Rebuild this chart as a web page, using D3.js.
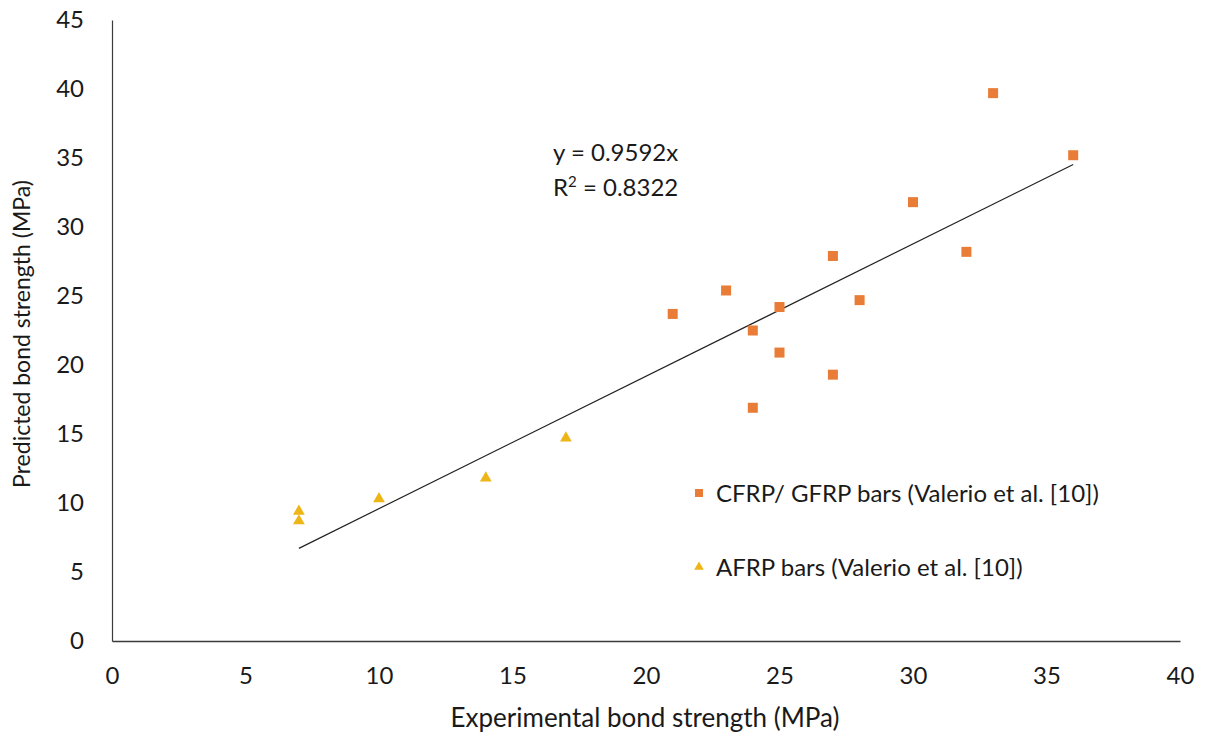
<!DOCTYPE html>
<html>
<head>
<meta charset="utf-8">
<script src="https://cdn.jsdelivr.net/npm/d3@7"></script>
<style>
  body { margin: 0; background: #fff; }
  text { font-family: Lato, "Open Sans", sans-serif; fill: #1a1a1a; }
</style>
</head>
<body>
<svg id="chart" width="1207" height="742"></svg>
<script>
// CFRP / GFRP bars
var cfrpX = [21, 23, 24, 24, 25, 25, 27, 27, 28, 30, 32, 33, 36];
var cfrpY = [23.7, 25.4, 22.5, 16.9, 24.2, 20.9, 27.9, 19.3, 24.7, 31.8, 28.2, 39.7, 35.2];

// AFRP bars
var afrpX = [7, 7, 10, 14, 17];
var afrpY = [9.4, 8.7, 10.3, 11.8, 14.7];

var xTicks = [0, 5, 10, 15, 20, 25, 30, 35, 40];
var yTicks = [0, 5, 10, 15, 20, 25, 30, 35, 40, 45];

var slope = 0.9592;
var trendRange = [7, 36];

var svg = d3.select("#chart");

var xScale = d3.scaleLinear().domain([0, 40]).range([112, 1180]);
var yScale = d3.scaleLinear().domain([0, 45]).range([641, 20]);

// x axis
var xAxis = d3.axisBottom(xScale).tickValues(xTicks).tickSize(0).tickPadding(26);
var gx = svg.append("g")
    .attr("transform", "translate(0," + yScale(0) + ")")
    .call(xAxis);
gx.select(".domain").attr("stroke", "#3a3a3a").attr("stroke-width", 1.5);
gx.selectAll("text").style("font-size", "24px").attr("fill", "#1a1a1a");

// y axis
var yAxis = d3.axisLeft(yScale).tickValues(yTicks).tickSize(0).tickPadding(28);
var gy = svg.append("g")
    .attr("transform", "translate(" + xScale(0) + ",0)")
    .call(yAxis);
gy.select(".domain").attr("stroke", "#3a3a3a").attr("stroke-width", 1.2);
gy.selectAll("text").style("font-size", "24px").attr("fill", "#1a1a1a");

// axis titles
svg.append("text")
    .attr("x", 645)
    .attr("y", 727)
    .attr("text-anchor", "middle")
    .style("font-size", "26px")
    .text("Experimental bond strength (MPa)");

svg.append("text")
    .attr("transform", "translate(30,334) rotate(-90)")
    .attr("text-anchor", "middle")
    .style("font-size", "23px")
    .text("Predicted bond strength (MPa)");

// trendline
svg.append("line")
    .attr("x1", xScale(trendRange[0]))
    .attr("y1", yScale(slope * trendRange[0]))
    .attr("x2", xScale(trendRange[1]))
    .attr("y2", yScale(slope * trendRange[1]))
    .attr("stroke", "#222")
    .attr("stroke-width", 1.2);

// points
var cfrp = cfrpX.map(function(d, i) { return [d, cfrpY[i]]; });
var afrp = afrpX.map(function(d, i) { return [d, afrpY[i]]; });

svg.selectAll(".sq")
    .data(cfrp)
  .enter().append("rect")
    .attr("class", "sq")
    .attr("x", function(d) { return xScale(d[0]) - 5; })
    .attr("y", function(d) { return yScale(d[1]) - 5; })
    .attr("width", 10)
    .attr("height", 10)
    .attr("fill", "#E97C36");

var tri = d3.symbol().type(d3.symbolTriangle).size(60);
svg.selectAll(".tri")
    .data(afrp)
  .enter().append("path")
    .attr("class", "tri")
    .attr("d", tri)
    .attr("transform", function(d) { return "translate(" + xScale(d[0]) + "," + yScale(d[1]) + ")"; })
    .attr("fill", "#EDB616");

// equation
svg.append("text")
    .attr("x", 553)
    .attr("y", 161)
    .style("font-size", "24px")
    .text("y = 0.9592x");
var r2 = svg.append("text")
    .attr("x", 553)
    .attr("y", 196)
    .style("font-size", "24px");
r2.append("tspan").text("R");
r2.append("tspan").attr("dy", -9).style("font-size", "15px").text("2");
r2.append("tspan").attr("dy", 9).text(" = 0.8322");

// legend
svg.append("rect")
    .attr("x", 695).attr("y", 489)
    .attr("width", 8).attr("height", 8)
    .attr("fill", "#E97C36");
svg.append("text")
    .attr("x", 716).attr("y", 502)
    .style("font-size", "24px")
    .text("CFRP/ GFRP bars (Valerio et al. [10])");

svg.append("path")
    .attr("d", d3.symbol().type(d3.symbolTriangle).size(40))
    .attr("transform", "translate(699,567)")
    .attr("fill", "#EDB616");
svg.append("text")
    .attr("x", 716).attr("y", 576)
    .style("font-size", "24px")
    .text("AFRP bars (Valerio et al. [10])");
</script>
</body>
</html>
